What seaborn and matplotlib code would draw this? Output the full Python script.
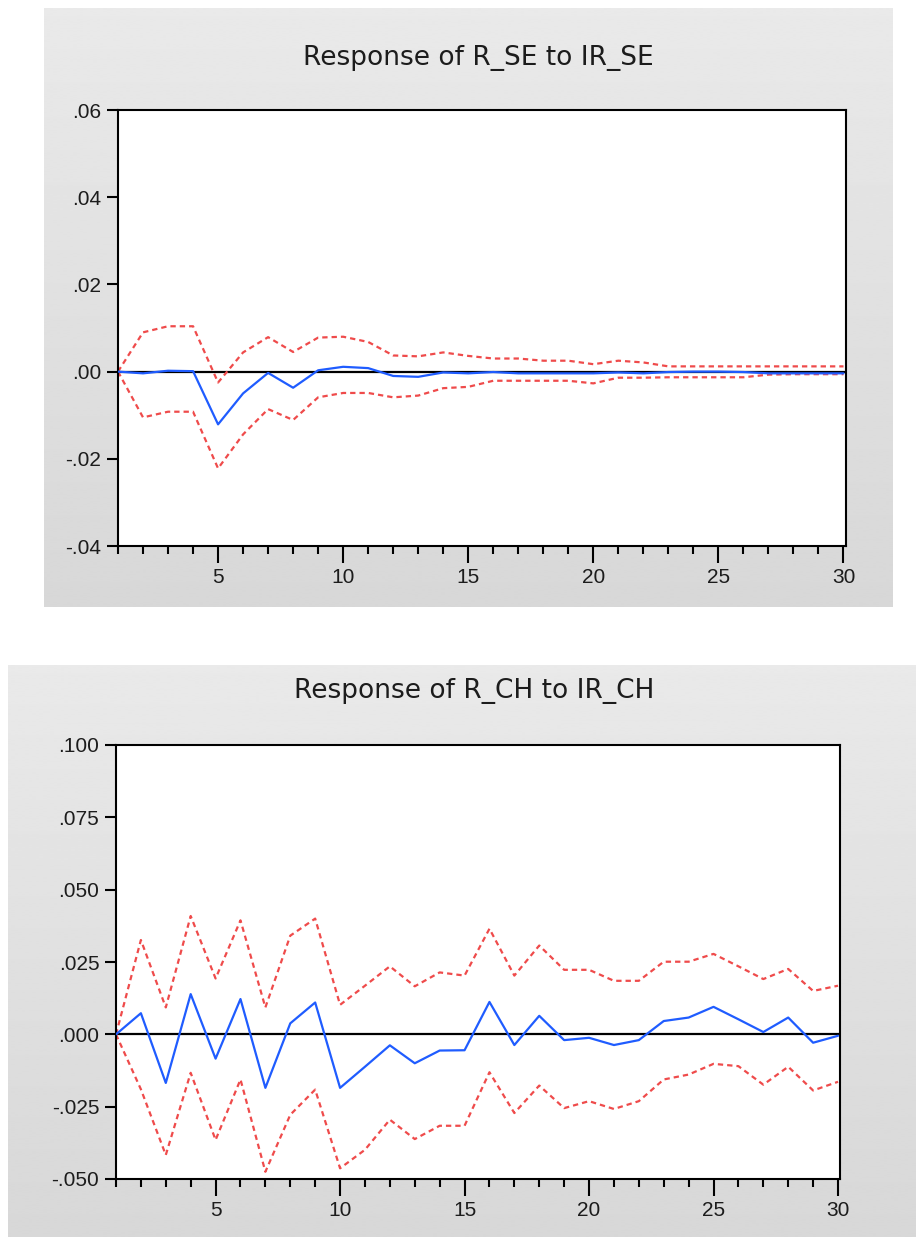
import numpy as np
import pandas as pd
import matplotlib
matplotlib.use("Agg")
import matplotlib.pyplot as plt
import seaborn as sns

# ---------------- data ----------------
periods = list(range(1, 31))

se_title = "Response of R_SE to IR_SE"
se_resp = [0.0, -0.0004, 0.0002, 0.0001, -0.0121, -0.0050, -0.0003, -0.0037, 0.0003, 0.0011,
           0.0008, -0.0010, -0.0012, -0.0002, -0.0004, -0.0001, -0.0004, -0.0004, -0.0004, -0.0004,
           -0.0002, -0.0004, -0.0001, 0.0000, 0.0000, -0.0001, -0.0004, -0.0004, -0.0004, -0.0004]
se_upper = [0.0, 0.0090, 0.0104, 0.0104, -0.0025, 0.0044, 0.0079, 0.0045, 0.0078, 0.0080,
            0.0068, 0.0037, 0.0035, 0.0044, 0.0036, 0.0030, 0.0030, 0.0025, 0.0025, 0.0017,
            0.0025, 0.0021, 0.0012, 0.0012, 0.0012, 0.0012, 0.0012, 0.0012, 0.0012, 0.0012]
se_lower = [0.0, -0.0105, -0.0092, -0.0092, -0.0222, -0.0144, -0.0086, -0.0111, -0.0059, -0.0049,
            -0.0049, -0.0059, -0.0055, -0.0038, -0.0035, -0.0021, -0.0021, -0.0021, -0.0021, -0.0027,
            -0.0014, -0.0014, -0.0013, -0.0013, -0.0013, -0.0013, -0.0007, -0.0006, -0.0006, -0.0006]
se_yticks = [-0.04, -0.02, 0.00, 0.02, 0.04, 0.06]
se_yticklabels = ["-.04", "-.02", ".00", ".02", ".04", ".06"]

ch_title = "Response of R_CH to IR_CH"
ch_resp = [0.0, 0.0073, -0.0168, 0.0139, -0.0084, 0.0122, -0.0185, 0.0038, 0.0110, -0.0185,
           -0.0112, -0.0038, -0.0100, -0.0056, -0.0055, 0.0112, -0.0037, 0.0064, -0.0020, -0.0012,
           -0.0037, -0.0020, 0.0046, 0.0058, 0.0095, 0.0052, 0.0008, 0.0058, -0.0029, -0.0005]
ch_upper = [0.0, 0.0326, 0.0093, 0.0409, 0.0193, 0.0394, 0.0093, 0.0341, 0.0400, 0.0102,
            0.0168, 0.0235, 0.0166, 0.0214, 0.0203, 0.0365, 0.0203, 0.0307, 0.0223, 0.0223,
            0.0185, 0.0185, 0.0251, 0.0251, 0.0278, 0.0235, 0.0191, 0.0226, 0.0150, 0.0168]
ch_lower = [0.0, -0.0190, -0.0417, -0.0133, -0.0365, -0.0156, -0.0475, -0.0278, -0.0191, -0.0463,
            -0.0399, -0.0295, -0.0362, -0.0316, -0.0316, -0.0131, -0.0272, -0.0177, -0.0255, -0.0231,
            -0.0258, -0.0231, -0.0156, -0.0139, -0.0102, -0.0110, -0.0174, -0.0112, -0.0194, -0.0164]
ch_yticks = [-0.050, -0.025, 0.000, 0.025, 0.050, 0.075, 0.100]
ch_yticklabels = ["-.050", "-.025", ".000", ".025", ".050", ".075", ".100"]

xticks_major = [5, 10, 15, 20, 25, 30]
xticklabels = ["5", "10", "15", "20", "25", "30"]

# ---------------- style ----------------
sns.set_style("white")
plt.rcParams["font.family"] = ["Liberation Sans", "DejaVu Sans"]

W, H = 916, 1237
fig = plt.figure(figsize=(W / 100, H / 100), dpi=100)
fig.patch.set_facecolor("white")

BLUE = "#1f5cff"
RED = "#ef4b4b"
TXT = "#1c1c1c"


def px_rect(x0, y0, x1, y1):
    return [x0 / W, 1 - y1 / H, (x1 - x0) / W, (y1 - y0) / H]


def panel_bg(rect):
    bg = fig.add_axes(rect, zorder=-10)
    grad = np.linspace(0.915, 0.845, 256).reshape(-1, 1)
    bg.imshow(grad, aspect="auto", cmap="gray", vmin=0, vmax=1,
              extent=[0, 1, 0, 1], interpolation="bilinear")
    bg.set_axis_off()


def draw_panel(rect, title, title_xy, resp, upper, lower, yticks, yticklabels, xlim):
    ax = fig.add_axes(rect)
    ax.set_facecolor("white")
    ax.axhline(0, color="black", lw=1.6, zorder=1)
    df = pd.DataFrame({"period": periods, "resp": resp, "upper": upper, "lower": lower})
    sns.lineplot(data=df, x="period", y="upper", color=RED, lw=1.6,
                 linestyle=(0, (2.4, 1.8)), ax=ax, zorder=2)
    sns.lineplot(data=df, x="period", y="lower", color=RED, lw=1.6,
                 linestyle=(0, (2.4, 1.8)), ax=ax, zorder=2)
    sns.lineplot(data=df, x="period", y="resp", color=BLUE, lw=1.6, ax=ax, zorder=3)
    ax.set_xlim(*xlim)
    ax.set_ylim(yticks[0], yticks[-1])
    ax.set_yticks(yticks)
    ax.set_yticklabels(yticklabels)
    ax.set_xticks(xticks_major)
    ax.set_xticklabels(xticklabels)
    ax.set_xticks(periods, minor=True)
    ax.set_xlabel("")
    ax.set_ylabel("")
    for s in ax.spines.values():
        s.set_color("black")
        s.set_linewidth(1.5)
    ax.tick_params(axis="y", which="major", direction="out", length=8, width=1.5,
                   color="black", labelsize=15, labelcolor=TXT, pad=4, left=True)
    ax.tick_params(axis="x", which="major", direction="out", length=12, width=1.5,
                   color="black", labelsize=15, labelcolor=TXT, pad=4, bottom=True)
    ax.tick_params(axis="x", which="minor", direction="out", length=6, width=1.5,
                   color="black", bottom=True)
    fig.text(title_xy[0] / W, 1 - title_xy[1] / H, title, ha="center", va="center",
             fontsize=19, color=TXT, family=["DejaVu Sans"])
    return ax


panel_bg(px_rect(44, 8, 893, 607))
panel_bg(px_rect(8, 665, 916, 1237))

draw_panel(px_rect(118, 110, 846, 546), se_title, (478, 58),
           se_resp, se_upper, se_lower, se_yticks, se_yticklabels, (1, 30.1))
draw_panel(px_rect(116, 745, 840, 1179), ch_title, (474, 691),
           ch_resp, ch_upper, ch_lower, ch_yticks, ch_yticklabels, (1, 30.08))

fig.savefig("out.png", dpi=100, facecolor="white")
